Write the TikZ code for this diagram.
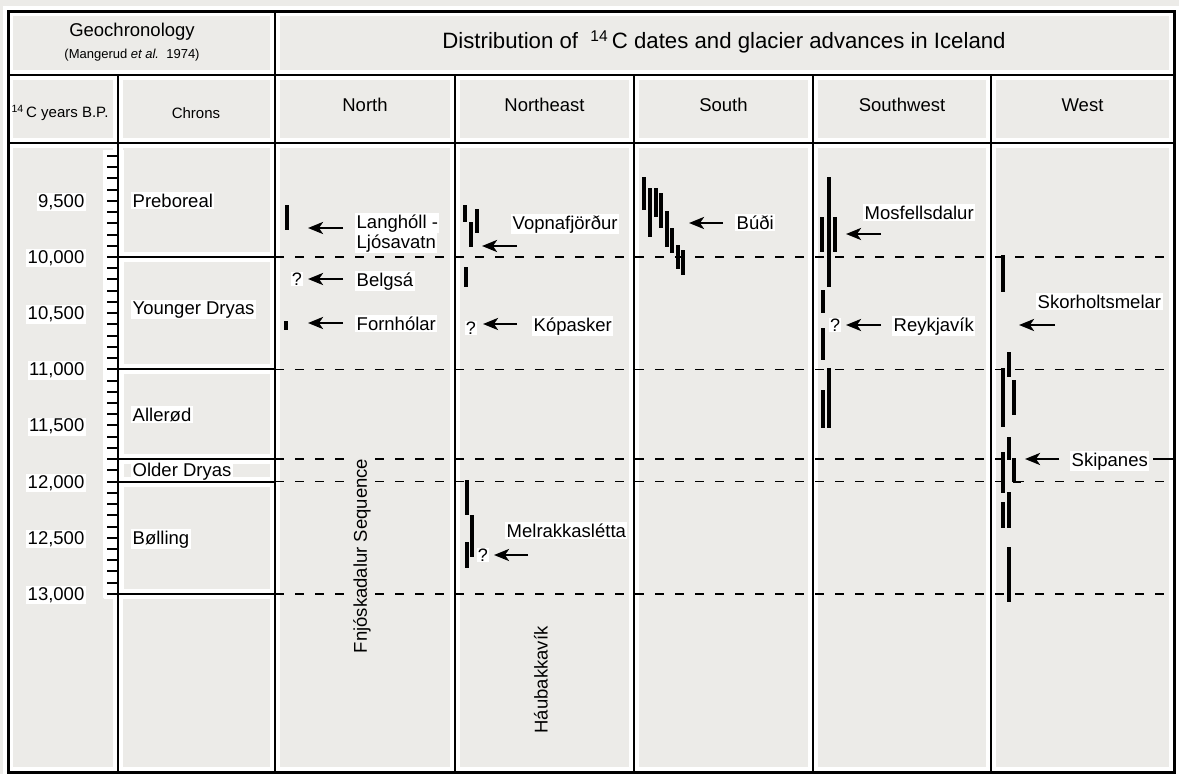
\documentclass[tikz,border=0pt]{standalone}
\usepackage{fontspec}
\setmainfont{Liberation Sans}
\usetikzlibrary{arrows.meta}
\definecolor{paper}{HTML}{ECEBE8}
\newcommand\ty[1]{257+(#1-10000)*0.1123}
\newcommand\glarrow[4]{\coordinate (#1t) at (#2,#4);\coordinate (#1h) at (#3,#4);\draw[garrow] (#1t) -- (#1h);}
\begin{document}
\begin{tikzpicture}[x=1pt,y=-1pt,
  tblframe/.style={line width=3pt},
  tblrule/.style={line width=2.7pt},
  bodyrule/.style={line width=2pt},
  chronrule/.style={line width=2pt},
  tickmark/.style={line width=2pt},
  whitehalo/.style={draw=white,line width=10pt},
  dashrule/.style={line width=1.6pt,dash pattern=on 9pt off 11pt},
  datebar/.style={line width=3.3pt},
  garrow/.style={line width=2.6pt,-{Stealth[length=15pt,width=12pt,inset=4pt]}},
  lab/.style={font=\fontsize{18.5}{20}\selectfont,inner sep=1.5pt,fill=white,anchor=base west},
  qmark/.style={font=\fontsize{18}{20}\selectfont,inner sep=1pt,fill=white},
  scalelab/.style={font=\fontsize{18.5}{20}\selectfont,inner sep=1.5pt,fill=white,anchor=base east},
  colhead/.style={font=\fontsize{18.5}{20}\selectfont,inner sep=1pt},
  smallhead/.style={font=\fontsize{15}{17}\selectfont,inner sep=1pt},
  vlab/.style={font=\fontsize{18.5}{20}\selectfont,inner sep=2pt,rotate=90,fill=paper}
]
\useasboundingbox (0,0) rectangle (1179,774);
\fill[paper] (0,0) rectangle (1179,774);

% white halos along the rules
\draw[whitehalo] (8,11) rectangle (1174,772);
\draw[whitehalo] (8,75) -- (1174,75);
\draw[whitehalo] (8,143) -- (1174,143);
\draw[whitehalo] (275,11) -- (275,772);
\foreach \x in {118,455,634,813,991} \draw[whitehalo] (\x,75) -- (\x,772);
\foreach \yr in {10000,11000,11800,12000,13000} \draw[whitehalo] (104,{\ty{\yr}}) -- (275,{\ty{\yr}});
\fill[white] (103,150) rectangle (124,598);

% table rules
\draw[tblframe] (8,11) rectangle (1174,772);
\draw[tblrule] (8,75) -- (1174,75);
\draw[tblrule] (8,143) -- (1174,143);
\draw[tblrule] (275,11) -- (275,772);
\draw[tblrule] (118,75) -- (118,772);
\foreach \x in {455,634,813,991} \draw[bodyrule] (\x,75) -- (\x,772);

% time scale ticks
\foreach \yr in {9100,9200,...,12900} \draw[tickmark] (107,{\ty{\yr}}) -- (118,{\ty{\yr}});
\foreach \yr in {10000,11000,11800,12000,13000} \draw[chronrule] (107,{\ty{\yr}}) -- (275,{\ty{\yr}});
\foreach \yr in {10000,11000,12000,13000} \draw[dashrule] (275,{\ty{\yr}}) -- (1174,{\ty{\yr}});
\draw[dashrule] (275,{\ty{11800}}) -- (1016,{\ty{11800}});
\draw[bodyrule] (1153,{\ty{11800}}) -- (1174,{\ty{11800}});

% scale labels
\foreach \yr/\txt in {9500/{9,500},10000/{10,000},10500/{10,500},11000/{11,000},11500/{11,500},12000/{12,000},12500/{12,500},13000/{13,000}}
  \node[scalelab] (s\yr) at (86,{\ty{\yr}+6.5}) {\txt};

% chron labels
\node[lab] (pre) at (131,207) {Preboreal};
\node[lab] (yd) at (131,314) {Younger Dryas};
\node[lab] (all) at (131,421) {Allerød};
\node[lab] (od) at (131,476) {Older Dryas};
\node[lab] (bol) at (131,544) {Bølling};

% headers
\node[colhead] (geo) at (132,32) {Geochronology};
\node[font=\fontsize{13}{15}\selectfont,inner sep=1pt] (cite) at (132,55) {(Mangerud \textit{et al.}\ \ 1974)};
\node[font=\fontsize{22.2}{24}\selectfont,inner sep=1pt] (title) at (724,42) {Distribution of \ \textsuperscript{14}\,C dates and glacier advances in Iceland};
\node[smallhead] (years) at (60,113) {\textsuperscript{14}\,C years B.P.};
\node[smallhead] (chrons) at (196,113) {Chrons};
\node[colhead] (hN) at (365,105) {North};
\node[colhead] (hNE) at (544.5,105) {Northeast};
\node[colhead] (hS) at (723.5,105) {South};
\node[colhead] (hSW) at (902,105) {Southwest};
\node[colhead] (hW) at (1082.5,105) {West};

% North
\draw[datebar] (287,205) -- (287,230);
\draw[datebar] (286,321) -- (286,330);
\node[lab] (lang) at (355,228) {Langhóll -};
\node[lab] (ljos) at (355,248) {Ljósavatn};
\glarrow{aLa}{343}{308}{228}
\node[qmark] (qBel) at (297,279) {?};
\node[lab] (bel) at (355,286) {Belgsá};
\glarrow{aBe}{343}{308}{279}
\node[lab] (forn) at (355,330) {Fornhólar};
\glarrow{aFo}{343}{308}{323}
\node[vlab] (fnj) at (362,556) {Fnjóskadalur Sequence};

% Northeast
\draw[datebar] (465,205) -- (465,222);
\draw[datebar] (471,222) -- (471,247);
\draw[datebar] (477,209) -- (477,233);
\draw[datebar] (466,267) -- (466,287);
\node[lab] (vop) at (511,229) {Vopnafjörður};
\glarrow{aVo}{517}{482}{246}
\node[qmark] (qKop) at (471,328) {?};
\node[lab] (kop) at (532,331) {Kópasker};
\glarrow{aKo}{517}{483}{324}
\draw[datebar] (467,480) -- (467,515);
\draw[datebar] (472,515) -- (472,557);
\draw[datebar] (467,542) -- (467,568);
\node[qmark] (qMel) at (483,555) {?};
\node[lab] (mel) at (505,537) {Melrakkaslétta};
\glarrow{aMe}{528}{494}{555}
\node[vlab] (hau) at (541,680) {Háubakkavík};

% South
\draw[datebar] (644,177) -- (644,210);
\draw[datebar] (650,188) -- (650,237);
\draw[datebar] (656,188) -- (656,217);
\draw[datebar] (661,193) -- (661,228);
\draw[datebar] (667,211) -- (667,247);
\draw[datebar] (672,228) -- (672,253);
\draw[datebar] (678,245) -- (678,269);
\draw[datebar] (683,250) -- (683,275);
\node[lab] (bud) at (735,229) {Búði};
\glarrow{aBu}{723}{689}{223}

% Southwest
\draw[datebar] (829,177) -- (829,287);
\draw[datebar] (822,217) -- (822,252);
\draw[datebar] (835,217) -- (835,252);
\draw[datebar] (823,290) -- (823,313);
\draw[datebar] (823,328) -- (823,360);
\draw[datebar] (829,368) -- (829,428);
\draw[datebar] (823,390) -- (823,428);
\node[lab] (mos) at (863,219) {Mosfellsdalur};
\glarrow{aMo}{881}{846}{234}
\node[qmark] (qRey) at (835,325) {?};
\node[lab] (rey) at (892,331) {Reykjavík};
\glarrow{aRe}{881}{846}{325}

% West
\draw[datebar] (1003,255) -- (1003,292);
\draw[datebar] (1009,352) -- (1009,377);
\draw[datebar] (1003,368) -- (1003,427);
\draw[datebar] (1014,380) -- (1014,415);
\draw[datebar] (1009,437) -- (1009,460);
\draw[datebar] (1003,452) -- (1003,493);
\draw[datebar] (1014,458) -- (1014,482);
\draw[bodyrule] (1013,482) -- (1021,482);
\draw[datebar] (1003,502) -- (1003,528);
\draw[datebar] (1009,492) -- (1009,528);
\draw[datebar] (1009,547) -- (1009,602);
\node[lab] (sko) at (1036,308) {Skorholtsmelar};
\glarrow{aSk}{1055}{1019}{325}
\node[lab] (ski) at (1070,466) {Skipanes};
\glarrow{aSp}{1059}{1025}{459}
\end{tikzpicture}
\end{document}
